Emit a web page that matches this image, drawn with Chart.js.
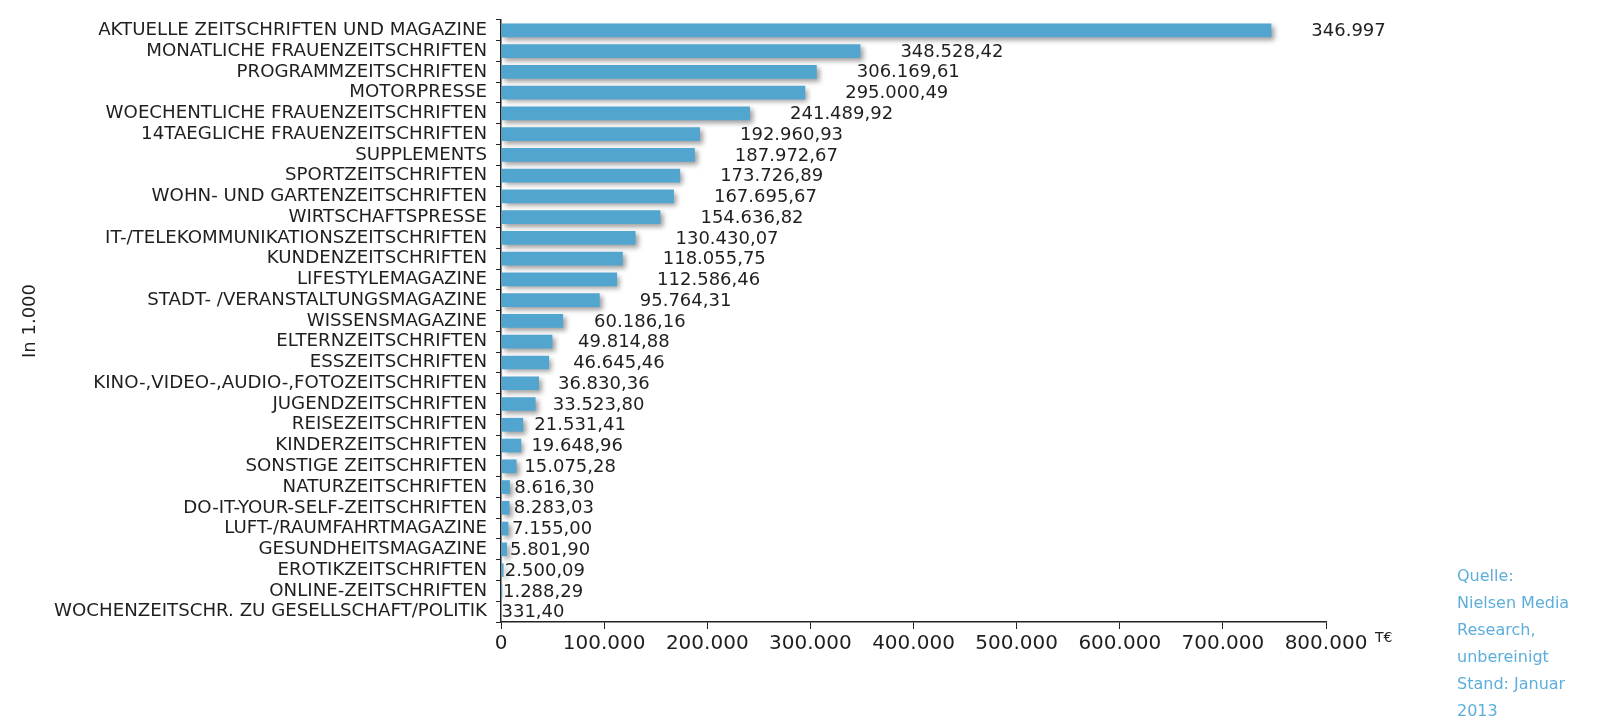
<!DOCTYPE html>
<html>
<head>
<meta charset="utf-8">
<script src="https://cdn.jsdelivr.net/npm/chart.js@4.4.1/dist/chart.umd.min.js"></script>
<style>
    html, body { margin: 0; padding: 0; background: #fff; }
    #wrap { position: relative; width: 1598px; height: 724px; }
    #unit { position: absolute; left: 1375px; top: 629px; font: 14px 'DejaVu Sans'; color: #222; }
    #quelle { position: absolute; left: 1457px; top: 562px; font: 16px/27px 'DejaVu Sans'; color: #5daedb; }
</style>
</head>
<body>
<div id="wrap">
    <canvas id="chart" width="1598" height="724"></canvas>
    <div id="unit">T€</div>
    <div id="quelle">Quelle:<br>Nielsen Media<br>Research,<br>unbereinigt<br>Stand: Januar<br>2013</div>
</div>
<script>
// Bruttowerbeaufwand nach Zeitschriftengattung (T€)
const categories = [
    'AKTUELLE ZEITSCHRIFTEN UND MAGAZINE',
    'MONATLICHE FRAUENZEITSCHRIFTEN',
    'PROGRAMMZEITSCHRIFTEN',
    'MOTORPRESSE',
    'WOECHENTLICHE FRAUENZEITSCHRIFTEN',
    '14TAEGLICHE FRAUENZEITSCHRIFTEN',
    'SUPPLEMENTS',
    'SPORTZEITSCHRIFTEN',
    'WOHN- UND GARTENZEITSCHRIFTEN',
    'WIRTSCHAFTSPRESSE',
    'IT-/TELEKOMMUNIKATIONSZEITSCHRIFTEN',
    'KUNDENZEITSCHRIFTEN',
    'LIFESTYLEMAGAZINE',
    'STADT- /VERANSTALTUNGSMAGAZINE',
    'WISSENSMAGAZINE',
    'ELTERNZEITSCHRIFTEN',
    'ESSZEITSCHRIFTEN',
    'KINO-,VIDEO-,AUDIO-,FOTOZEITSCHRIFTEN',
    'JUGENDZEITSCHRIFTEN',
    'REISEZEITSCHRIFTEN',
    'KINDERZEITSCHRIFTEN',
    'SONSTIGE ZEITSCHRIFTEN',
    'NATURZEITSCHRIFTEN',
    'DO-IT-YOUR-SELF-ZEITSCHRIFTEN',
    'LUFT-/RAUMFAHRTMAGAZINE',
    'GESUNDHEITSMAGAZINE',
    'EROTIKZEITSCHRIFTEN',
    'ONLINE-ZEITSCHRIFTEN',
    'WOCHENZEITSCHR. ZU GESELLSCHAFT/POLITIK'
];

const values = [
    746997, 348528.42, 306169.61, 295000.49, 241489.92, 192960.93, 187972.67,
    173726.89, 167695.67, 154636.82, 130430.07, 118055.75, 112586.46, 95764.31,
    60186.16, 49814.88, 46645.46, 36830.36, 33523.80, 21531.41, 19648.96,
    15075.28, 8616.30, 8283.03, 7155.00, 5801.90, 2500.09, 1288.29, 331.40
];

const valueLabels = [
    '346.997', '348.528,42', '306.169,61', '295.000,49', '241.489,92', '192.960,93', '187.972,67',
    '173.726,89', '167.695,67', '154.636,82', '130.430,07', '118.055,75', '112.586,46', '95.764,31',
    '60.186,16', '49.814,88', '46.645,46', '36.830,36', '33.523,80', '21.531,41', '19.648,96',
    '15.075,28', '8.616,30', '8.283,03', '7.155,00', '5.801,90', '2.500,09', '1.288,29', '331,40'
];

const xMax = 800000;
const xStep = 100000;

function formatThousands(v) {
    return String(v).replace(/\B(?=(\d{3})+(?!\d))/g, '.');
}

// grauer Schlagschatten unter den Balken
const barShadow = {
    id: 'barShadow',
    beforeDatasetsDraw(chart) {
        const ctx = chart.ctx;
        ctx.save();
        ctx.shadowColor = 'rgba(0,0,0,0.38)';
        ctx.shadowBlur = 5;
        ctx.shadowOffsetX = 3;
        ctx.shadowOffsetY = 3;
    },
    afterDatasetsDraw(chart) { chart.ctx.restore(); }
};

// Wertbeschriftung rechts neben jedem Balken
const valueLabelPlugin = {
    id: 'valueLabels',
    afterDatasetsDraw(chart) {
        const ctx = chart.ctx;
        const x0 = chart.scales.x.getPixelForValue(0);
        ctx.save();
        ctx.font = '18px "DejaVu Sans"';
        ctx.fillStyle = '#1f1f1f';
        ctx.textBaseline = 'middle';
        chart.getDatasetMeta(0).data.forEach((bar, i) => {
            const gap = Math.min(40, (bar.x - x0) * 0.5);
            ctx.fillText(valueLabels[i], bar.x + gap, bar.y + 1);
        });
        ctx.restore();
    }
};

new Chart(document.getElementById('chart'), {
    type: 'bar',
    data: {
        labels: categories,
        datasets: [{
            data: values,
            backgroundColor: '#52a5cf',
            borderWidth: 0,
            barPercentage: 0.66,
            categoryPercentage: 1
        }]
    },
    plugins: [barShadow, valueLabelPlugin],
    options: {
        indexAxis: 'y',
        responsive: false,
        animation: false,
        devicePixelRatio: 1,
        layout: { padding: { left: 10, top: 12, right: 272, bottom: 65 } },
        plugins: { legend: { display: false }, tooltip: { enabled: false } },
        scales: {
            x: {
                min: 0,
                max: xMax,
                ticks: {
                    stepSize: xStep,
                    padding: 3,
                    color: '#1f1f1f',
                    font: { family: 'DejaVu Sans', size: 20 },
                    callback: v => formatThousands(v)
                },
                grid: { drawOnChartArea: false, drawTicks: true, tickLength: 7, color: '#222' },
                border: { color: '#222', width: 1.5 }
            },
            y: {
                afterFit: scale => { scale.width = 491; },
                ticks: {
                    padding: 9,
                    color: '#1f1f1f',
                    autoSkip: false,
                    font: { family: 'DejaVu Sans', size: 18.2 }
                },
                grid: { drawOnChartArea: false, drawTicks: true, tickLength: 5, color: '#222' },
                border: { color: '#222', width: 1.5 },
                title: {
                    display: true,
                    text: 'In 1.000',
                    color: '#1f1f1f',
                    font: { family: 'DejaVu Sans', size: 18 },
                    padding: { top: 10, bottom: 0 }
                }
            }
        }
    }
});
</script>
</body>
</html>
